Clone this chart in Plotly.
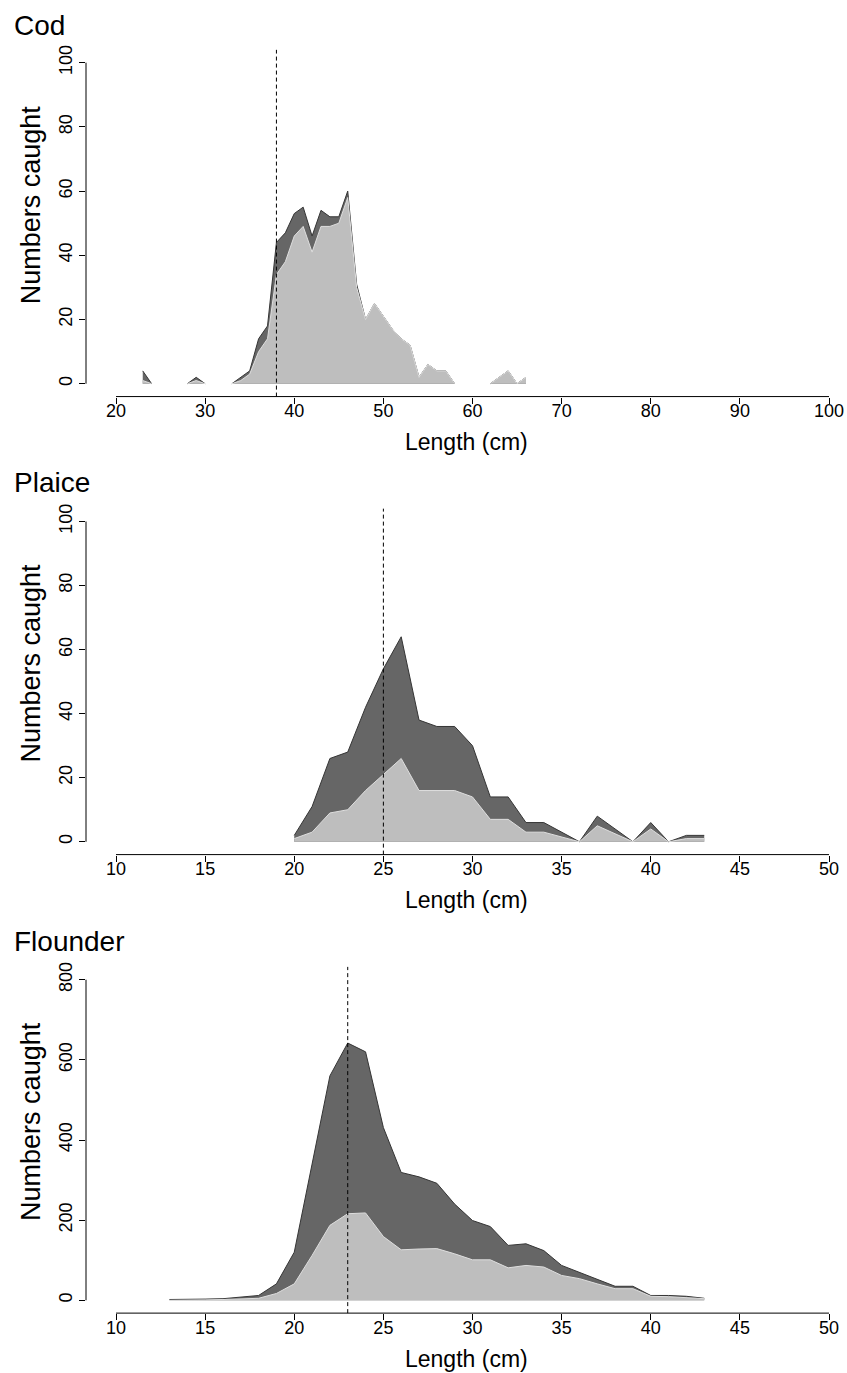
import plotly.graph_objects as go

# ---------------- data ----------------
panel_titles = ["Cod", "Plaice", "Flounder"]

cod_len = list(range(23, 67))
cod_total = [4, 0, None, None, None, 0, 2, 0, None, None, 0, 2, 4, 14, 18, 44, 47, 53, 55, 46,
             54, 52, 52, 60, 31, 20, 25, 21, 17, 14, 12, 2, 6, 4, 4, 0, None, None, None, 0,
             2, 4, 0, 2]
cod_part = [1, 0, None, None, None, 0, 1, 0, None, None, 0, 1, 3, 10, 14, 34, 38, 46, 49, 41,
            49, 49, 50, 58, 30, 20, 25, 21, 17, 14, 12, 2, 6, 4, 4, 0, None, None, None, 0,
            2, 4, 0, 2]

plaice_len = list(range(20, 44))
plaice_total = [2, 11, 26, 28, 42, 54, 64, 38, 36, 36, 30, 14, 14, 6, 6, 3, 0, 8, 4, 0, 6, 0, 2, 2]
plaice_part = [1, 3, 9, 10, 16, 21, 26, 16, 16, 16, 14, 7, 7, 3, 3, 1.5, 0, 5, 2.5, 0, 4, 0, 1, 1]

flounder_len = list(range(13, 44))
flounder_total = [2, 2, 3, 4, 8, 12, 41, 120, 340, 560, 642, 620, 431, 319, 308, 292, 240, 199,
                  184, 137, 141, 124, 87, 70, 51, 35, 35, 12, 12, 10, 5]
flounder_part = [0, 0, 1, 2, 3, 5, 17, 41, 112, 187, 216, 218, 159, 126, 128, 129, 116, 101,
                 101, 81, 87, 83, 62, 54, 41, 29, 29, 10, 9, 7, 4]

min_size = [38, 25, 23]

x_ticks = [[20, 30, 40, 50, 60, 70, 80, 90, 100],
           [10, 15, 20, 25, 30, 35, 40, 45, 50],
           [10, 15, 20, 25, 30, 35, 40, 45, 50]]
y_ticks = [[0, 20, 40, 60, 80, 100],
           [0, 20, 40, 60, 80, 100],
           [0, 200, 400, 600, 800]]

x_title = "Length (cm)"
y_title = "Numbers caught"

lengths = [cod_len, plaice_len, flounder_len]
totals = [cod_total, plaice_total, flounder_total]
parts = [cod_part, plaice_part, flounder_part]

# ---------------- layout geometry (pixels) ----------------
W, H = 847, 1373
left_px = 86
first_tick_px, last_tick_px = 116, 829
region_top = [45, 505.5, 965.4]
region_bot = [393, 852.7, 1312.9]
title_y = [21, 479, 940]
ytitle_y = [201, 661, 1121]
xtitle_y = [439, 898, 1359]

DARK = "#666666"
DARK_LINE = "#353535"
LIGHT = "#bebebe"
LIGHT_LINE = "#dedede"
FONT = "Liberation Sans, Arial, Helvetica, sans-serif"

fig = go.Figure()
shapes = []
annotations = []
layout = {}

for i in range(3):
    n = i + 1
    xa = "x" if n == 1 else f"x{n}"
    ya = "y" if n == 1 else f"y{n}"
    xmin, xmax = x_ticks[i][0], x_ticks[i][-1]
    ymin, ymax = y_ticks[i][0], y_ticks[i][-1]
    scale = (last_tick_px - first_tick_px) / (xmax - xmin)
    xr = [xmin - (first_tick_px - left_px) / scale, xmin + (W - first_tick_px) / scale]
    pad = 0.04 * (ymax - ymin)
    yr = [ymin - pad, ymax + pad]

    fig.add_trace(go.Scatter(x=lengths[i], y=totals[i], mode="lines", fill="tozeroy",
                             fillcolor=DARK, line=dict(color=DARK_LINE, width=1),
                             connectgaps=False, xaxis=xa, yaxis=ya, showlegend=False,
                             hoverinfo="skip"))
    fig.add_trace(go.Scatter(x=lengths[i], y=parts[i], mode="lines", fill="tozeroy",
                             fillcolor=LIGHT, line=dict(color=LIGHT_LINE, width=1),
                             connectgaps=False, xaxis=xa, yaxis=ya, showlegend=False,
                             hoverinfo="skip"))

    axis_font = dict(family=FONT, size=18, color="black")
    layout["xaxis" if n == 1 else f"xaxis{n}"] = dict(
        domain=[left_px / W, 1], range=xr, anchor=ya, tickvals=x_ticks[i],
        ticks="outside", ticklen=6, tickwidth=1, tickcolor="black",
        showgrid=False, zeroline=False, showline=False, tickfont=axis_font,
        ticklabelstandoff=-8)
    layout["yaxis" if n == 1 else f"yaxis{n}"] = dict(
        domain=[1 - region_bot[i] / H, 1 - region_top[i] / H], range=yr, anchor=xa,
        tickvals=y_ticks[i], tickangle=-90, ticks="outside", ticklen=6, tickwidth=1,
        tickcolor="black", showgrid=False, zeroline=False, showline=False,
        tickfont=axis_font)

    # R-style axis lines spanning first..last tick
    shapes.append(dict(type="line", xref=xa, yref=f"{ya} domain", x0=xmin, x1=xmax,
                       y0=0, y1=0, line=dict(color="black", width=1), layer="above"))
    shapes.append(dict(type="line", xref=f"{xa} domain", yref=ya, x0=0, x1=0,
                       y0=ymin, y1=ymax, line=dict(color="black", width=1), layer="above"))
    # dashed reference line
    shapes.append(dict(type="line", xref=xa, yref=f"{ya} domain", x0=min_size[i],
                       x1=min_size[i], y0=0, y1=1,
                       line=dict(color="black", width=1, dash="4px,3px"), layer="above"))

    annotations.append(dict(text=panel_titles[i], xref="paper", yref="paper",
                            x=12 / W, y=1 - title_y[i] / H, xanchor="left", yanchor="middle",
                            showarrow=False, font=dict(family=FONT, size=28, color="black")))
    annotations.append(dict(text=y_title, xref="paper", yref="paper", textangle=-90,
                            x=31 / W, y=1 - ytitle_y[i] / H, xanchor="center",
                            yanchor="middle", showarrow=False,
                            font=dict(family=FONT, size=27, color="black")))
    annotations.append(dict(text=x_title, xref="paper", yref="paper",
                            x=(left_px + W) / 2 / W - 0.0, y=1 - xtitle_y[i] / H,
                            xanchor="center", yanchor="middle", showarrow=False,
                            font=dict(family=FONT, size=23, color="black")))

fig.update_layout(**layout)
fig.update_layout(width=W, height=H, margin=dict(l=0, r=0, t=0, b=0, pad=0),
                  paper_bgcolor="white", plot_bgcolor="white",
                  shapes=shapes, annotations=annotations, showlegend=False)

fig.write_html("out.html")
